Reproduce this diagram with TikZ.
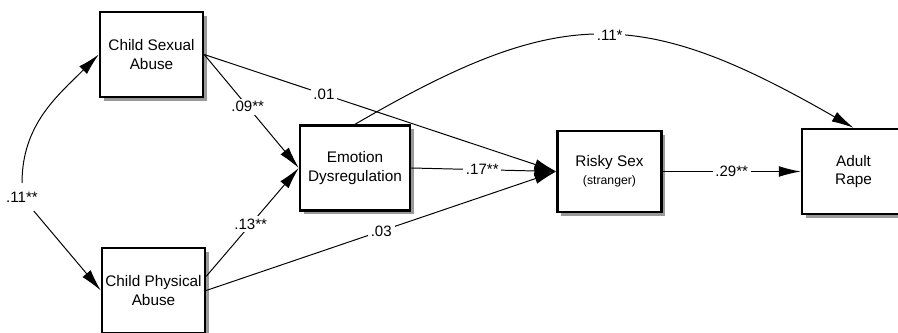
\documentclass[tikz,border=0pt]{standalone}
\usepackage{fontspec}
\setmainfont{Liberation Sans}
\usetikzlibrary{arrows.meta,shadows}

\begin{document}
\begin{tikzpicture}[x=0.025cm, y=0.025cm, >={Latex[length=5.5mm,width=2.7mm]}]
	\tikzstyle{var}=[draw, line width=1.7pt, fill=white, align=center, inner sep=0pt,
		font=\fontsize{10.9}{13}\selectfont,
		drop shadow={shadow xshift=2.6pt, shadow yshift=-2.6pt, fill=black!40, opacity=1}]
	\tikzstyle{coef}=[fill=white, inner sep=2pt, font=\fontsize{10.7}{12}\selectfont]
	\tikzstyle{link}=[->, line width=0.7pt]
	
	\useasboundingbox (0,0) rectangle (898,333);
	
	\node[var, minimum width=2.575cm, minimum height=2.125cm](csa) at (151.5,278.5){Child Sexual\\Abuse};
	\node[var, minimum width=2.575cm, minimum height=2.125cm](cpa) at (153.5,42.5){Child Physical\\Abuse};
	\node[var, minimum width=2.75cm, minimum height=2.125cm](ed) at (355,165){Emotion\\Dysregulation};
	\node[var, minimum width=2.6cm, minimum height=2.025cm](rs) at (609.5,161.5){Risky Sex\\{\fontsize{8.7}{10}\selectfont (stranger)}};
	\node[var, minimum width=2.575cm, minimum height=2.125cm](ar) at (853.5,161.5){Adult\\Rape};
	
	% correlation between the two abuse types
	\node[coef, inner sep=6pt](c11) at (22,136){.11**};
	\draw[link] (c11.north) to[out=90, in=225] (csa.west);
	\draw[link] (c11) -- (cpa.west);
	
	\draw[link] (csa.east) -- (ed.west) node[coef, pos=0.46]{.09**};
	\draw[link] (csa.east) -- (rs.west) node[coef, pos=0.34]{.01};
	\draw[link] (cpa.15) -- (ed.west) node[coef, pos=0.48]{.13**};
	\draw[link] (cpa.east) -- (rs.west) node[coef, pos=0.5]{.03};
	\draw[link] (ed.east) -- (rs.west) node[coef, pos=0.49]{.17**};
	\draw[link] (rs.east) -- (ar.west) node[coef, pos=0.5]{.29**};
	\draw[link] (ed.north) .. controls (560,328) and (640,328) .. (ar.north) node[coef, pos=0.52]{.11*};
	
\end{tikzpicture}
\end{document}
